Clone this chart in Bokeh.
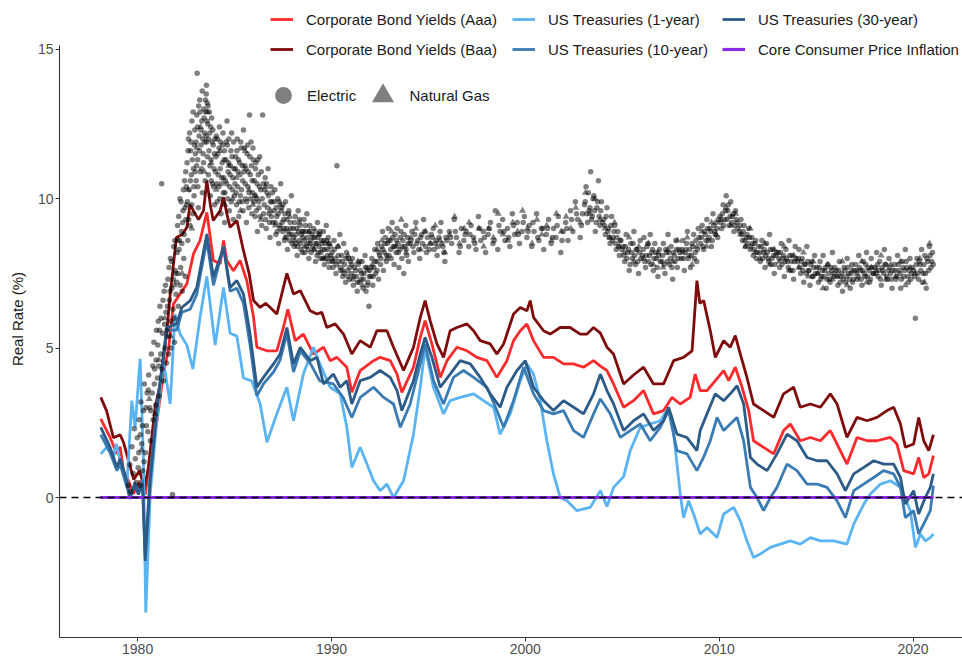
from bokeh.plotting import figure
from bokeh.models import Range1d, FixedTicker, Span, Legend, LegendItem, ColumnDataSource
from bokeh.embed import file_html
from bokeh.resources import INLINE

# ---------------- line series (decimal year, real rate %) ----------------
aaa_year = [1978.1, 1978.58, 1978.93, 1979.1, 1979.27, 1979.53, 1979.78, 1980.13, 1980.39, 1980.56, 1980.9,
            1981.33, 1981.6, 1981.85, 1982.19, 1982.54, 1982.88, 1983.22, 1983.57, 1983.91, 1984.26, 1984.43,
            1984.6, 1984.94, 1985.29, 1985.63, 1985.98, 1986.15, 1986.67, 1987.18, 1987.52, 1987.75, 1988.13,
            1988.55, 1989.07, 1989.59, 1989.93, 1990.28, 1990.79, 1991.05, 1991.48, 1992.17, 1992.51, 1993.03,
            1993.38, 1993.63, 1994.23, 1994.58, 1994.83, 1995.18, 1995.61, 1995.96, 1996.47, 1996.99, 1997.5,
            1998.02, 1998.53, 1999.05, 1999.39, 1999.74, 2000.08, 2000.42, 2000.94, 2001.45, 2001.97, 2002.49,
            2003.0, 2003.52, 2003.87, 2004.21, 2004.55, 2005.07, 2005.58, 2006.1, 2006.61, 2007.13, 2007.56,
            2007.99, 2008.5, 2008.76, 2009.02, 2009.37, 2009.8, 2010.23, 2010.49, 2010.83, 2011.18, 2011.52,
            2011.77, 2012.29, 2012.81, 2013.32, 2013.67, 2014.18, 2014.7, 2015.22, 2015.73, 2016.08, 2016.59,
            2017.11, 2017.63, 2018.14, 2018.83, 2019.17, 2019.52, 2020.03, 2020.29, 2020.55, 2020.81, 2021.05]
aaa_rate = [2.63, 2.01, 1.46, 1.7, 0.9, 0.56, 0.12, 0.56, 0.1, 0.9, 2.12,
            4.13, 5.0, 6.48, 6.81, 7.15, 8.15, 8.6, 9.54, 7.93, 7.82, 8.6,
            7.93, 7.59, 7.93, 7.26, 6.03, 5.03, 4.91, 4.91, 5.69, 6.3, 5.25,
            5.47, 4.8, 5.03, 4.58, 4.69, 4.36, 3.52, 4.25, 4.58, 4.69, 4.58,
            4.13, 3.52, 4.36, 5.36, 5.92, 5.14, 4.02, 4.58, 5.03, 4.91, 4.69,
            4.58, 4.02, 4.58, 5.25, 5.58, 5.81, 5.25, 4.69, 4.69, 4.47, 4.47,
            4.36, 4.58, 4.4, 4.25, 3.8, 3.02, 3.24, 3.58, 2.8, 2.91, 3.35,
            3.13, 3.35, 4.13, 3.58, 3.58, 3.91, 4.25, 3.91, 4.36, 3.69, 2.91,
            1.9, 1.68, 1.46, 2.24, 2.46, 1.9, 2.01, 1.9, 2.24, 1.79, 1.12,
            2.01, 1.9, 1.9, 2.01, 1.79, 0.9, 0.79, 1.34, 0.67, 0.79, 1.4]

baa_year = [1978.1, 1978.4, 1978.75, 1979.1, 1979.27, 1979.5, 1979.8, 1980.1, 1980.35, 1980.55, 1980.9,
            1981.16, 1981.5, 1981.68, 1982.0, 1982.3, 1982.54, 1982.7, 1983.14, 1983.4, 1983.57, 1983.75,
            1983.9, 1984.26, 1984.43, 1984.6, 1984.77, 1985.12, 1985.46, 1985.75, 1985.98, 1986.32, 1986.6,
            1986.84, 1987.18, 1987.52, 1987.7, 1988.04, 1988.39, 1988.73, 1988.9, 1989.25, 1989.5, 1989.76,
            1990.19, 1990.62, 1991.05, 1991.48, 1992.0, 1992.34, 1992.86, 1993.2, 1993.72, 1994.23, 1994.58,
            1994.83, 1995.09, 1995.44, 1995.78, 1996.12, 1996.47, 1996.99, 1997.33, 1997.67, 1998.19, 1998.53,
            1998.88, 1999.39, 1999.74, 2000.08, 2000.25, 2000.42, 2000.94, 2001.28, 2001.8, 2002.31, 2002.83,
            2003.18, 2003.52, 2003.87, 2004.21, 2004.55, 2005.07, 2005.58, 2006.1, 2006.61, 2007.13, 2007.65,
            2008.16, 2008.6, 2008.85, 2009.0, 2009.2, 2009.54, 2009.8, 2010.23, 2010.57, 2010.83, 2011.09,
            2011.43, 2011.77, 2012.29, 2012.81, 2013.32, 2013.84, 2014.18, 2014.7, 2015.22, 2015.73, 2016.08,
            2016.59, 2017.11, 2017.63, 2018.14, 2018.66, 2019.0, 2019.35, 2019.6, 2020.03, 2020.29, 2020.55,
            2020.81, 2021.05]
baa_rate = [3.35, 2.9, 2.0, 2.1, 1.85, 1.3, 0.6, 0.9, 0.3, 1.0, 3.0,
            3.8, 5.5, 6.8, 8.7, 8.8, 9.04, 9.8, 9.3, 9.6, 10.6, 9.8,
            9.27, 9.6, 10.05, 9.5, 9.04, 9.27, 8.26, 7.5, 6.59, 6.36, 6.5,
            6.36, 6.14, 7.03, 7.5, 6.81, 6.92, 6.48, 6.25, 6.14, 6.2, 5.69,
            5.81, 5.47, 4.8, 5.25, 5.03, 5.58, 5.58, 5.03, 4.25, 5.03, 6.03,
            6.59, 5.92, 5.14, 4.69, 5.58, 5.69, 5.81, 5.58, 5.25, 5.14, 4.8,
            5.14, 6.14, 6.36, 6.25, 6.59, 6.03, 5.58, 5.47, 5.69, 5.69, 5.47,
            5.47, 5.69, 5.5, 5.03, 4.8, 3.8, 4.1, 4.36, 3.8, 3.8, 4.58,
            4.69, 4.91, 7.26, 6.5, 6.59, 5.58, 4.69, 5.25, 5.03, 5.42, 4.8,
            4.02, 3.13, 2.91, 2.68, 3.47, 3.69, 3.02, 3.13, 3.02, 3.47, 3.13,
            2.01, 2.68, 2.57, 2.68, 2.91, 3.02, 2.46, 1.68, 1.79, 2.68, 1.9,
            1.57, 2.1]

t1_year = [1978.1, 1978.4, 1978.75, 1978.9, 1979.2, 1979.44, 1979.7, 1979.87, 1980.13, 1980.3, 1980.42,
           1980.65, 1980.99, 1981.33, 1981.68, 1981.93, 1982.19, 1982.54, 1982.85, 1983.22, 1983.57, 1984.0,
           1984.43, 1984.77, 1985.12, 1985.46, 1985.89, 1986.32, 1986.67, 1987.18, 1987.7, 1988.04, 1988.55,
           1989.07, 1989.33, 1989.93, 1990.45, 1990.79, 1991.05, 1991.48, 1991.83, 1992.17, 1992.51, 1992.86,
           1993.2, 1993.72, 1994.23, 1994.58, 1994.83, 1995.26, 1995.78, 1996.12, 1996.64, 1997.33, 1997.84,
           1998.36, 1998.7, 1999.22, 1999.74, 2000.08, 2000.42, 2000.77, 2001.11, 2001.45, 2001.8, 2002.15,
           2002.66, 2003.35, 2003.87, 2004.21, 2004.55, 2005.07, 2005.41, 2005.93, 2006.44, 2006.96, 2007.3,
           2007.56, 2007.99, 2008.16, 2008.42, 2008.68, 2009.02, 2009.37, 2009.89, 2010.23, 2010.75, 2011.09,
           2011.43, 2011.77, 2012.12, 2012.64, 2013.15, 2013.67, 2014.18, 2014.7, 2015.22, 2015.9, 2016.59,
           2016.94, 2017.46, 2017.8, 2018.32, 2018.83, 2019.35, 2019.86, 2020.12, 2020.38, 2020.63, 2020.89,
           2021.05]
t1_rate = [1.46, 1.68, 1.34, 1.8, 0.9, 0.34, 3.24, 2.35, 4.64, 1.23, -3.85,
           0.12, 2.57, 4.58, 3.13, 6.14, 5.47, 5.1, 4.3, 6.03, 7.4, 5.1,
           7.03, 5.5, 5.4, 4.0, 3.9, 3.13, 1.85, 2.8, 3.69, 2.57, 4.13,
           5.03, 4.58, 3.69, 3.47, 2.35, 1.01, 1.68, 1.12, 0.56, 0.23, 0.45,
           0.0, 0.56, 2.12, 3.69, 5.0, 3.69, 2.8, 3.24, 3.35, 3.47, 3.24,
           3.02, 2.12, 2.8, 3.91, 4.47, 4.13, 3.24, 1.9, 0.79, 0.0, -0.11,
           -0.44, -0.33, 0.23, -0.3, 0.34, 0.7, 1.57, 2.35, 2.46, 2.57, 2.91,
           2.68, 0.12, -0.67, -0.11, -0.55, -1.22, -1.0, -1.34, -0.55, -0.33, -0.78,
           -1.45, -2.01, -1.89, -1.67, -1.56, -1.45, -1.56, -1.34, -1.45, -1.45, -1.56,
           -0.89, -0.22, 0.12, 0.45, 0.56, 0.34, -0.44, -1.67, -1.22, -1.45, -1.34,
           -1.22]

t10_year = [1978.1, 1978.58, 1978.93, 1979.1, 1979.44, 1979.6, 1979.85, 1980.04, 1980.25, 1980.39, 1980.65,
            1980.99, 1981.5, 1982.02, 1982.28, 1982.71, 1983.05, 1983.57, 1983.91, 1984.43, 1984.77, 1985.12,
            1985.46, 1985.8, 1986.15, 1986.49, 1987.01, 1987.35, 1987.7, 1988.04, 1988.39, 1988.9, 1989.4,
            1990.1, 1990.6, 1991.05, 1991.48, 1992.17, 1992.69, 1993.2, 1993.55, 1994.06, 1994.58, 1994.83,
            1995.26, 1995.78, 1996.29, 1996.81, 1997.33, 1998.02, 1998.53, 1998.88, 1999.39, 1999.91, 2000.42,
            2000.94, 2001.45, 2001.97, 2002.49, 2003.0, 2003.52, 2003.87, 2004.38, 2004.9, 2005.41, 2005.93,
            2006.44, 2006.96, 2007.39, 2007.82, 2008.34, 2008.85, 2009.19, 2009.54, 2009.89, 2010.23, 2010.57,
            2010.92, 2011.26, 2011.61, 2011.95, 2012.29, 2012.64, 2012.98, 2013.5, 2014.01, 2014.53, 2015.05,
            2015.56, 2016.08, 2016.51, 2016.94, 2017.45, 2017.97, 2018.48, 2019.0, 2019.35, 2019.6, 2020.03,
            2020.29, 2020.63, 2020.89, 2021.05]
t10_rate = [2.1, 1.5, 0.9, 1.1, 0.4, -0.05, 0.5, 0.2, 0.6, -1.9, 0.8,
            3.0, 5.6, 5.6, 6.2, 6.3, 6.8, 8.6, 7.1, 8.4, 6.9, 7.0,
            6.5, 5.1, 3.4, 3.8, 4.2, 4.6, 5.5, 4.2, 4.9, 4.5, 3.9,
            3.8, 3.35, 2.68, 3.35, 3.69, 3.35, 3.13, 2.35, 3.13, 4.47, 5.14,
            3.91, 3.13, 4.02, 4.25, 4.02, 3.69, 2.91, 2.35, 3.24, 4.36, 3.47,
            2.91, 2.8, 2.91, 2.24, 2.01, 2.8, 3.3, 2.8, 2.01, 2.24, 2.46,
            1.9, 2.35, 2.91, 1.57, 1.46, 0.9, 1.34, 1.9, 2.68, 2.24, 2.46,
            2.68, 1.9, 0.34, 0.0, -0.44, 0.0, 0.34, 1.12, 0.9, 0.45, 0.45,
            0.34, -0.11, -0.67, 0.23, 0.45, 0.67, 0.9, 0.79, 0.34, -0.67, -0.44,
            -1.22, -0.78, -0.44, 0.4]

t30_year = [1978.1, 1978.58, 1978.93, 1979.1, 1979.44, 1979.6, 1979.85, 1980.04, 1980.25, 1980.39, 1980.65,
            1980.99, 1981.5, 1982.02, 1982.28, 1982.71, 1983.05, 1983.57, 1983.91, 1984.43, 1984.77, 1985.12,
            1985.46, 1985.8, 1986.15, 1986.49, 1987.01, 1987.35, 1987.7, 1988.04, 1988.39, 1988.9, 1989.25,
            1989.59, 1990.1, 1990.45, 1990.79, 1991.05, 1991.48, 1992.0, 1992.51, 1993.03, 1993.38, 1993.63,
            1994.23, 1994.58, 1994.83, 1995.18, 1995.61, 1996.12, 1996.64, 1997.16, 1997.67, 1998.19, 1998.7,
            1999.05, 1999.57, 2000.0, 2000.42, 2000.94, 2001.45, 2001.97, 2002.49, 2003.0, 2003.52, 2003.87,
            2004.21, 2004.55, 2005.07, 2005.58, 2006.1, 2006.61, 2007.13, 2007.39, 2007.82, 2008.33, 2008.85,
            2009.02, 2009.37, 2009.8, 2010.23, 2010.57, 2010.92, 2011.26, 2011.61, 2011.95, 2012.47, 2012.98,
            2013.5, 2014.01, 2014.53, 2015.05, 2015.56, 2016.08, 2016.51, 2016.94, 2017.46, 2017.97, 2018.49,
            2019.0, 2019.35, 2019.6, 2020.03, 2020.29, 2020.63, 2020.89, 2021.05]
t30_rate = [2.35, 1.68, 1.01, 1.3, 0.56, 0.0, 0.4, 0.1, 0.5, -2.12, 0.56,
            2.91, 5.69, 5.81, 6.36, 6.59, 7.03, 8.82, 7.37, 8.37, 7.03, 7.26,
            6.81, 5.47, 3.69, 4.02, 4.47, 4.8, 5.69, 4.47, 5.03, 4.58, 4.69,
            3.8, 4.13, 3.69, 3.91, 3.13, 3.91, 4.02, 4.25, 4.02, 3.58, 2.91,
            3.91, 4.8, 5.36, 4.69, 3.69, 4.13, 4.58, 4.47, 4.02, 3.47, 3.02,
            3.69, 4.25, 4.58, 3.69, 3.24, 2.91, 3.24, 3.02, 2.8, 3.47, 4.13,
            3.58, 3.13, 2.24, 2.57, 2.8, 2.24, 2.57, 3.02, 2.12, 2.01, 1.57,
            2.24, 2.8, 3.47, 3.24, 3.47, 3.74, 3.13, 1.34, 1.12, 0.9, 1.46,
            2.12, 1.9, 1.34, 1.23, 1.23, 0.79, 0.23, 0.79, 1.01, 1.23, 1.12,
            1.12, 0.67, -0.22, 0.23, -0.55, 0.0, 0.34, 0.79]

cpi_year = [1978.08, 2021.05]
cpi_rate = [0.0, 0.0]

# ---------------- utility authorized returns (scatter) ----------------
elec_year_a = [1979.52, 1979.6, 1979.66, 1979.71, 1979.77, 1979.83, 1979.88, 1979.94, 1979.98,
               1980.03, 1980.08, 1980.12, 1980.17, 1980.21, 1980.26, 1980.3, 1980.35, 1980.4, 1980.45, 1980.49,
               1980.53, 1980.57, 1980.62, 1980.66, 1980.71, 1980.75, 1980.8, 1980.84, 1980.88, 1980.93, 1980.97,
               1981.02, 1981.06, 1981.11, 1981.15, 1981.19, 1981.24, 1981.28, 1981.33, 1981.37, 1981.41, 1981.46, 1981.49,
               1981.52, 1981.56, 1981.6, 1981.64, 1981.69, 1981.73, 1981.77, 1981.8, 1981.82, 1981.86, 1981.9, 1981.94, 1981.98,
               1982.02, 1982.06, 1982.1, 1982.14, 1982.18, 1982.22, 1982.26, 1982.3, 1982.34, 1982.38, 1982.42, 1982.46, 1982.49,
               1982.52, 1982.55, 1982.59, 1982.62, 1982.66, 1982.7, 1982.73, 1982.77, 1982.8, 1982.84, 1982.88, 1982.91, 1982.95, 1982.98,
               1983.02, 1983.05, 1983.07, 1983.1, 1983.13, 1983.17, 1983.2, 1983.24, 1983.27, 1983.31, 1983.34, 1983.38, 1983.41, 1983.45, 1983.48,
               1983.51, 1983.54, 1983.56, 1983.59, 1983.62, 1983.65, 1983.68, 1983.72, 1983.75, 1983.79, 1983.82, 1983.86, 1983.9, 1983.94, 1983.97,
               1984.02, 1984.06, 1984.1, 1984.14, 1984.18, 1984.22, 1984.26, 1984.3, 1984.34, 1984.38, 1984.42, 1984.46, 1984.49,
               1984.53, 1984.57, 1984.61, 1984.65, 1984.69, 1984.73, 1984.77, 1984.81, 1984.85, 1984.89, 1984.93, 1984.97]
elec_rate_a = [0.4, 1.1, 0.2, 1.7, 0.8, 2.3, 1.3, 0.5, 2.0,
               1.0, 2.6, 0.4, 3.2, 1.8, 0.9, 2.9, 3.8, 1.5, 2.4, 3.5,
               2.2, 4.1, 3.0, 1.9, 4.8, 3.5, 2.6, 5.2, 4.3, 3.1, 5.6,
               4.0, 5.9, 3.4, 6.4, 4.8, 10.5, 5.5, 3.9, 6.9, 5.0, 6.2, 4.5,
               5.6, 7.3, 4.8, 6.6, 8.0, 5.9, 7.0, 0.1, 6.3, 8.4, 5.2, 7.6, 6.8,
               7.2, 9.1, 6.4, 8.3, 10.0, 7.7, 8.9, 6.9, 9.6, 8.0, 10.6, 7.4, 9.3,
               9.8, 11.2, 8.6, 12.0, 10.3, 9.1, 11.6, 10.8, 12.6, 9.5, 11.0, 10.1, 12.3, 11.5,
               10.6, 12.8, 14.2, 11.3, 9.7, 12.1, 13.3, 10.9, 11.8, 12.6, 10.2, 11.5, 13.0, 12.2, 10.6,
               12.9, 13.5, 11.9, 13.2, 12.5, 10.8, 11.6, 12.2, 10.1, 11.3, 12.7, 10.5, 11.8, 11.0, 9.8,
               10.9, 12.1, 9.9, 11.5, 10.4, 12.4, 11.0, 9.5, 10.7, 11.8, 10.2, 11.3, 9.2,
               10.6, 11.9, 12.6, 10.0, 11.2, 9.6, 10.8, 11.6, 12.2, 10.3, 9.3, 11.0]

elec_year_b = [1985.02, 1985.06, 1985.1, 1985.14, 1985.18, 1985.22, 1985.26, 1985.3, 1985.34, 1985.38, 1985.42, 1985.46,
               1985.53, 1985.57, 1985.61, 1985.65, 1985.69, 1985.73, 1985.77, 1985.81, 1985.85, 1985.89, 1985.93, 1985.97,
               1986.02, 1986.06, 1986.1, 1986.14, 1986.18, 1986.22, 1986.26, 1986.3, 1986.35, 1986.4, 1986.45, 1986.48,
               1986.53, 1986.58, 1986.63, 1986.68, 1986.73, 1986.78, 1986.83, 1986.88, 1986.93, 1986.97,
               1987.03, 1987.08, 1987.13, 1987.18, 1987.23, 1987.28, 1987.33, 1987.38, 1987.43, 1987.48,
               1987.53, 1987.58, 1987.63, 1987.68, 1987.73, 1987.78, 1987.83, 1987.88, 1987.93, 1987.97,
               1988.03, 1988.08, 1988.13, 1988.18, 1988.23, 1988.28, 1988.33, 1988.38, 1988.43, 1988.48,
               1988.53, 1988.58, 1988.63, 1988.68, 1988.73, 1988.78, 1988.83, 1988.88, 1988.93, 1988.97,
               1989.03, 1989.08, 1989.13, 1989.18, 1989.23, 1989.28, 1989.33, 1989.38, 1989.43, 1989.48,
               1989.53, 1989.58, 1989.63, 1989.68, 1989.73, 1989.78, 1989.83, 1989.88, 1989.93, 1989.97,
               1990.03, 1990.08, 1990.13, 1990.18, 1990.23, 1990.28, 1990.33, 1990.38, 1990.43, 1990.48,
               1990.53, 1990.58, 1990.63, 1990.68, 1990.73, 1990.78, 1990.83, 1990.88, 1990.93, 1990.97,
               1991.03, 1991.08, 1991.13, 1991.18, 1991.23, 1991.28, 1991.33, 1991.38, 1991.43, 1991.48,
               1991.53, 1991.58, 1991.63, 1991.68, 1991.73, 1991.78, 1991.83, 1991.88, 1991.93, 1991.97,
               1992.03, 1992.08, 1992.13, 1992.18, 1992.23, 1992.28, 1992.33, 1992.38, 1992.43, 1992.48,
               1992.53, 1992.58, 1992.63, 1992.68, 1992.73, 1992.78, 1992.83, 1992.88, 1992.93, 1992.97,
               1993.03, 1993.08, 1993.13, 1993.18, 1993.23, 1993.28, 1993.33, 1993.38, 1993.43, 1993.48,
               1993.53, 1993.58, 1993.63, 1993.68, 1993.73, 1993.78, 1993.83, 1993.88, 1993.93, 1993.97,
               1994.05, 1994.15, 1994.25, 1994.35, 1994.45, 1994.55, 1994.65, 1994.75, 1994.85, 1994.95]
elec_rate_b = [10.5, 11.4, 9.8, 12.0, 10.9, 9.4, 11.2, 10.1, 11.7, 9.9, 10.6, 12.3,
               11.1, 10.0, 9.2, 11.5, 10.4, 9.7, 12.8, 10.8, 11.9, 9.5, 10.2, 11.3,
               10.6, 9.4, 11.2, 10.0, 8.9, 10.8, 9.7, 11.4, 10.3, 9.1, 12.8, 10.5,
               9.8, 10.7, 9.0, 10.2, 11.0, 9.5, 8.7, 10.4, 9.9, 9.2,
               9.6, 10.3, 8.8, 9.4, 10.0, 8.5, 9.1, 10.5, 9.7, 8.9,
               9.3, 8.6, 9.9, 9.0, 8.3, 9.5, 8.8, 9.2, 10.1, 8.5,
               9.0, 8.4, 9.4, 8.8, 8.1, 9.6, 8.6, 9.1, 8.3, 8.9,
               8.7, 9.3, 8.2, 8.9, 9.5, 8.5, 8.0, 9.1, 8.6, 8.8,
               8.4, 9.0, 8.7, 7.9, 8.5, 9.2, 8.2, 8.8, 8.0, 8.6,
               8.3, 8.9, 7.8, 8.5, 9.1, 8.1, 8.7, 7.7, 8.4, 8.0,
               8.2, 7.7, 8.6, 8.0, 7.5, 11.1, 8.4, 7.9, 8.8, 7.6,
               8.1, 7.4, 8.5, 7.8, 7.2, 8.2, 7.6, 8.0, 7.3, 7.9,
               7.5, 8.0, 7.1, 7.7, 8.3, 7.4, 6.9, 7.8, 7.2, 7.6,
               7.3, 7.9, 7.0, 7.5, 8.1, 6.9, 7.7, 7.2, 6.4, 7.6,
               7.4, 8.0, 7.1, 7.7, 8.3, 7.5, 7.9, 8.5, 7.3, 8.1,
               7.8, 8.4, 8.9, 7.6, 8.2, 8.7, 7.9, 8.5, 9.0, 8.1,
               8.6, 8.0, 9.2, 8.4, 7.8, 8.8, 8.2, 9.0, 8.5, 7.7,
               8.3, 8.9, 8.0, 8.6, 7.5, 8.4, 9.1, 8.1, 8.7, 7.9,
               8.5, 8.9, 8.2, 9.2, 8.6, 8.0, 8.8, 9.3, 8.4, 8.7]

elec_year_c = [1995.05, 1995.15, 1995.25, 1995.35, 1995.45, 1995.55, 1995.65, 1995.75, 1995.85, 1995.95,
               1996.08, 1996.2, 1996.33, 1996.45, 1996.58, 1996.7, 1996.83, 1996.95,
               1997.08, 1997.2, 1997.33, 1997.45, 1997.58, 1997.7, 1997.83, 1997.95,
               1998.08, 1998.2, 1998.33, 1998.45, 1998.58, 1998.7, 1998.83, 1998.95,
               1999.08, 1999.2, 1999.33, 1999.45, 1999.58, 1999.7, 1999.83, 1999.95,
               2000.08, 2000.2, 2000.33, 2000.45, 2000.58, 2000.7, 2000.83, 2000.95,
               2001.08, 2001.2, 2001.33, 2001.45, 2001.58, 2001.7, 2001.83, 2001.95,
               2002.08, 2002.2, 2002.33, 2002.45, 2002.58, 2002.7, 2002.83, 2002.95,
               2003.05, 2003.13, 2003.21, 2003.29, 2003.37, 2003.45, 2003.53, 2003.61, 2003.69, 2003.77, 2003.85, 2003.93,
               2004.05, 2004.13, 2004.21, 2004.29, 2004.37, 2004.45, 2004.53, 2004.61, 2004.69, 2004.77, 2004.85, 2004.93,
               2005.04, 2005.12, 2005.2, 2005.28, 2005.36, 2005.44, 2005.52, 2005.6, 2005.68, 2005.76, 2005.84, 2005.92,
               2006.04, 2006.12, 2006.2, 2006.28, 2006.36, 2006.44, 2006.52, 2006.6, 2006.68, 2006.76, 2006.84, 2006.92,
               2007.04, 2007.12, 2007.2, 2007.28, 2007.36, 2007.44, 2007.52, 2007.6, 2007.68, 2007.76, 2007.84, 2007.92]
elec_rate_c = [8.3, 8.8, 9.0, 8.5, 8.1, 8.7, 9.2, 8.4, 7.9, 8.6,
               8.9, 8.5, 9.3, 8.7, 8.2, 9.0, 8.6, 8.9,
               8.4, 9.1, 8.7, 8.3, 9.4, 8.6, 8.9, 8.2,
               8.8, 9.2, 8.5, 9.6, 8.3, 8.9, 9.3, 8.6,
               9.0, 8.4, 9.5, 8.8, 9.2, 8.5, 8.9, 9.4,
               8.7, 9.1, 8.4, 8.9, 9.5, 8.6, 9.0, 8.3,
               8.8, 9.3, 8.5, 9.0, 8.7, 9.4, 8.2, 8.9,
               9.2, 8.6, 9.6, 8.9, 9.9, 9.3, 8.7, 9.5,
               9.8, 10.4, 9.2, 9.6, 10.9, 9.4, 10.1, 8.9, 9.7, 10.6, 9.1, 9.9,
               9.3, 8.8, 9.7, 9.0, 8.5, 9.4, 8.7, 9.1, 8.3, 8.9, 8.1, 8.6,
               8.4, 7.9, 8.8, 8.2, 7.6, 8.5, 8.0, 8.9, 7.8, 8.3, 7.5, 8.6,
               8.1, 8.7, 7.7, 8.4, 7.9, 8.8, 8.2, 7.6, 8.5, 8.0, 7.4, 8.3,
               7.9, 8.5, 7.5, 8.2, 8.8, 7.8, 8.4, 7.3, 8.1, 8.6, 7.7, 8.3]

elec_year_d = [2008.04, 2008.12, 2008.2, 2008.28, 2008.36, 2008.44, 2008.52, 2008.6, 2008.68, 2008.76, 2008.84, 2008.92,
               2009.04, 2009.12, 2009.2, 2009.28, 2009.36, 2009.44, 2009.52, 2009.6, 2009.68, 2009.76, 2009.84, 2009.92,
               2010.04, 2010.12, 2010.2, 2010.28, 2010.36, 2010.44, 2010.52, 2010.6, 2010.68, 2010.76, 2010.84, 2010.92,
               2011.04, 2011.12, 2011.2, 2011.28, 2011.36, 2011.44, 2011.52, 2011.6, 2011.68, 2011.76, 2011.84, 2011.92,
               2012.04, 2012.12, 2012.2, 2012.28, 2012.36, 2012.44, 2012.52, 2012.6, 2012.68, 2012.76, 2012.84, 2012.92,
               2013.04, 2013.12, 2013.2, 2013.28, 2013.36, 2013.44, 2013.52, 2013.6, 2013.68, 2013.76, 2013.84, 2013.92,
               2014.04, 2014.12, 2014.2, 2014.28, 2014.36, 2014.44, 2014.52, 2014.6, 2014.68, 2014.76, 2014.84, 2014.92,
               2015.04, 2015.12, 2015.2, 2015.28, 2015.36, 2015.44, 2015.52, 2015.6, 2015.68, 2015.76, 2015.84, 2015.92,
               2016.04, 2016.12, 2016.2, 2016.28, 2016.36, 2016.44, 2016.52, 2016.6, 2016.68, 2016.76, 2016.84, 2016.92,
               2017.04, 2017.12, 2017.2, 2017.28, 2017.36, 2017.44, 2017.52, 2017.6, 2017.68, 2017.76, 2017.84, 2017.92,
               2018.04, 2018.12, 2018.2, 2018.28, 2018.36, 2018.44, 2018.52, 2018.6, 2018.68, 2018.76, 2018.84, 2018.92,
               2019.04, 2019.12, 2019.2, 2019.28, 2019.36, 2019.44, 2019.52, 2019.6, 2019.68, 2019.76, 2019.84, 2019.92,
               2020.04, 2020.12, 2020.2, 2020.28, 2020.36, 2020.44, 2020.52, 2020.6, 2020.68, 2020.76, 2020.84, 2020.92,
               2021.0, 2021.04]
elec_rate_d = [8.0, 8.6, 7.6, 8.3, 8.9, 8.1, 7.7, 8.5, 8.8, 8.2, 7.9, 9.0,
               8.5, 9.1, 8.3, 8.8, 9.3, 8.6, 9.0, 8.4, 9.5, 8.9, 9.2, 8.7,
               9.4, 9.0, 9.8, 9.3, 10.1, 9.6, 9.1, 9.9, 9.4, 8.9, 9.6, 9.2,
               8.9, 9.3, 8.6, 9.1, 8.4, 8.8, 9.0, 8.3, 8.7, 8.1, 8.5, 8.0,
               8.4, 7.9, 8.6, 8.2, 7.7, 8.5, 8.0, 8.8, 7.8, 8.3, 7.5, 8.1,
               8.2, 7.7, 8.5, 8.0, 7.4, 8.3, 7.9, 8.6, 7.6, 8.1, 7.3, 8.4,
               7.9, 8.3, 7.5, 8.0, 7.2, 7.8, 8.4, 7.6, 7.1, 7.9, 7.4, 8.1,
               7.7, 7.2, 7.9, 7.4, 8.1, 7.6, 7.0, 7.8, 7.3, 7.7, 8.2, 7.5,
               7.6, 7.1, 7.9, 7.4, 6.9, 7.7, 7.2, 8.0, 7.5, 7.0, 7.8, 7.3,
               7.8, 7.3, 8.1, 7.6, 7.1, 7.9, 7.4, 8.2, 7.7, 7.2, 8.0, 7.5,
               7.7, 8.2, 7.4, 7.9, 7.1, 7.6, 8.3, 7.8, 7.3, 8.0, 7.5, 7.0,
               7.8, 7.3, 8.1, 7.6, 7.0, 7.9, 7.4, 8.3, 7.7, 7.2, 8.0, 7.5,
               7.6, 6.0, 8.0, 7.3, 7.8, 8.3, 7.5, 8.1, 7.0, 7.9, 8.4, 7.7,
               8.2, 7.8]

elec_year_e = [1980.06, 1980.14, 1980.24, 1980.33, 1980.43, 1980.55, 1980.68, 1980.78, 1980.86, 1980.95,
               1981.04, 1981.09, 1981.13, 1981.21, 1981.26, 1981.31, 1981.39, 1981.44, 1981.54, 1981.58,
               1981.62, 1981.67, 1981.71, 1981.75, 1981.84, 1981.88, 1981.92, 1981.96,
               1982.04, 1982.08, 1982.12, 1982.16, 1982.2, 1982.24, 1982.28, 1982.32, 1982.36, 1982.4,
               1982.44, 1982.48, 1982.51, 1982.57, 1982.6, 1982.64, 1982.68, 1982.72, 1982.75, 1982.79,
               1982.82, 1982.86, 1982.9, 1982.93, 1982.97,
               1983.01, 1983.04, 1983.09, 1983.11, 1983.15, 1983.19, 1983.22, 1983.26, 1983.29, 1983.33,
               1983.36, 1983.4, 1983.43, 1983.47, 1983.5, 1983.53, 1983.55, 1983.58, 1983.6, 1983.63,
               1983.66, 1983.7, 1983.73, 1983.77, 1983.8, 1983.84, 1983.88, 1983.92, 1983.96, 1983.99,
               1984.04, 1984.08, 1984.12, 1984.16, 1984.2, 1984.24, 1984.28, 1984.32, 1984.36, 1984.4,
               1984.44, 1984.48, 1984.51, 1984.55, 1984.59, 1984.63, 1984.67, 1984.71, 1984.75, 1984.79,
               1984.83, 1984.87, 1984.91, 1984.95, 1984.99,
               1985.04, 1985.08, 1985.12, 1985.16, 1985.2, 1985.24, 1985.28, 1985.32, 1985.36, 1985.4,
               1985.44, 1985.48, 1985.51, 1985.55, 1985.59, 1985.63, 1985.67, 1985.71, 1985.75, 1985.79,
               1985.83, 1985.87, 1985.91, 1985.95, 1985.99,
               1986.04, 1986.08, 1986.12, 1986.16, 1986.2, 1986.24, 1986.28, 1986.33, 1986.38, 1986.43,
               1986.5, 1986.55, 1986.6, 1986.65, 1986.7, 1986.75, 1986.8, 1986.85, 1986.9, 1986.95,
               1987.05, 1987.1, 1987.15, 1987.2, 1987.25, 1987.3, 1987.35, 1987.4, 1987.45, 1987.5,
               1987.55, 1987.6, 1987.65, 1987.7, 1987.75, 1987.8, 1987.85, 1987.9, 1987.95,
               1988.05, 1988.1, 1988.15, 1988.2, 1988.25, 1988.3, 1988.35, 1988.4, 1988.45, 1988.5,
               1988.55, 1988.6, 1988.65, 1988.7, 1988.75, 1988.8, 1988.85, 1988.9, 1988.95,
               1989.05, 1989.1, 1989.15, 1989.2, 1989.25, 1989.3, 1989.35, 1989.4, 1989.45, 1989.5,
               1989.55, 1989.6, 1989.65, 1989.7, 1989.75, 1989.8, 1989.85, 1989.9, 1989.95]
elec_rate_e = [1.5, 2.1, 2.4, 1.2, 3.0, 3.6, 2.9, 4.4, 3.8, 4.6,
               5.1, 4.4, 5.6, 6.0, 4.3, 6.6, 5.8, 7.1, 6.4, 5.4,
               7.7, 6.9, 5.0, 7.9, 7.3, 6.0, 8.6, 7.5,
               8.2, 7.5, 9.4, 8.6, 7.1, 9.9, 8.5, 9.2, 10.3, 8.8,
               9.7, 10.9, 10.4, 9.9, 11.6, 9.3, 12.2, 10.6, 11.9, 9.8,
               11.3, 12.9, 10.4, 11.8, 10.9,
               11.9, 11.1, 12.4, 10.4, 13.1, 11.6, 12.9, 12.3, 11.0, 13.6,
               12.0, 11.2, 12.7, 11.9, 13.3, 12.1, 13.8, 12.6, 11.4, 13.1,
               12.0, 12.9, 11.1, 12.4, 10.6, 11.9, 12.3, 10.4, 11.5, 12.0,
               11.4, 10.5, 12.0, 10.8, 11.7, 10.0, 11.9, 10.5, 11.2, 12.2,
               10.7, 11.6, 10.2, 11.3, 10.5, 11.8, 10.9, 12.0, 10.4, 11.1,
               9.9, 11.4, 10.7, 11.9, 10.1,
               11.0, 10.2, 11.6, 10.4, 11.3, 9.9, 10.8, 11.9, 10.3, 11.1,
               9.6, 10.9, 11.7, 10.5, 11.0, 9.9, 11.8, 10.9, 10.2, 11.4,
               10.0, 11.1, 10.6, 11.7, 9.9,
               10.1, 11.0, 9.6, 10.5, 11.3, 9.9, 10.4, 9.4, 10.9, 10.0,
               9.5, 10.3, 9.3, 10.5, 9.7, 10.1, 9.2, 9.9, 9.4, 10.2,
               9.9, 9.2, 9.7, 8.9, 9.5, 9.9, 9.0, 9.6, 9.2, 9.8,
               9.0, 9.5, 8.7, 9.3, 8.9, 9.6, 8.6, 9.0, 8.8,
               8.7, 9.2, 8.5, 9.0, 8.4, 8.9, 9.3, 8.5, 8.8, 8.2,
               8.9, 8.6, 9.1, 8.4, 8.7, 8.3, 8.9, 8.5, 8.2,
               8.7, 8.3, 8.9, 8.5, 8.1, 8.7, 8.4, 8.9, 8.2, 8.5,
               8.0, 8.6, 8.3, 8.0, 8.6, 8.3, 7.9, 8.5, 8.1]

elec_year_f = [1990.05, 1990.15, 1990.25, 1990.35, 1990.45, 1990.55, 1990.65, 1990.75, 1990.85, 1990.95,
               1991.05, 1991.15, 1991.25, 1991.35, 1991.45, 1991.55, 1991.65, 1991.75, 1991.85, 1991.95,
               1992.05, 1992.15, 1992.25, 1992.35, 1992.45, 1992.55, 1992.65, 1992.75, 1992.85, 1992.95,
               1993.05, 1993.15, 1993.25, 1993.35, 1993.45, 1993.55, 1993.65, 1993.75, 1993.85, 1993.95,
               1994.1, 1994.2, 1994.3, 1994.4, 1994.5, 1994.6, 1994.7, 1994.8, 1994.9,
               1995.1, 1995.2, 1995.3, 1995.4, 1995.5, 1995.6, 1995.7, 1995.8, 1995.9,
               1996.14, 1996.39, 1996.64, 1996.89, 1997.14, 1997.39, 1997.64, 1997.89,
               1998.14, 1998.39, 1998.64, 1998.89, 1999.14, 1999.39, 1999.64, 1999.89,
               2000.14, 2000.39, 2000.64, 2000.89, 2001.14, 2001.39, 2001.64, 2001.89,
               2002.14, 2002.39, 2002.64, 2002.89,
               2003.09, 2003.17, 2003.25, 2003.33, 2003.41, 2003.49, 2003.57, 2003.65, 2003.73, 2003.81, 2003.89, 2003.97,
               2004.09, 2004.17, 2004.25, 2004.33, 2004.41, 2004.49, 2004.57, 2004.65, 2004.73, 2004.81, 2004.89, 2004.97,
               2005.08, 2005.16, 2005.24, 2005.32, 2005.4, 2005.48, 2005.56, 2005.64, 2005.72, 2005.8, 2005.88, 2005.96,
               2006.08, 2006.16, 2006.24, 2006.32, 2006.4, 2006.48, 2006.56, 2006.64, 2006.72, 2006.8, 2006.88, 2006.96,
               2007.08, 2007.16, 2007.24, 2007.32, 2007.4, 2007.48, 2007.56, 2007.64, 2007.72, 2007.8, 2007.88, 2007.96,
               2008.08, 2008.16, 2008.24, 2008.32, 2008.4, 2008.48, 2008.56, 2008.64, 2008.72, 2008.8, 2008.88, 2008.96,
               2009.08, 2009.16, 2009.24, 2009.32, 2009.4, 2009.48, 2009.56, 2009.64, 2009.72, 2009.8, 2009.88, 2009.96,
               2010.08, 2010.16, 2010.24, 2010.32, 2010.4, 2010.48, 2010.56, 2010.64, 2010.72, 2010.8, 2010.88, 2010.96,
               2011.08, 2011.16, 2011.24, 2011.32, 2011.4, 2011.48, 2011.56, 2011.64, 2011.72, 2011.8, 2011.88, 2011.96,
               2012.08, 2012.16, 2012.24, 2012.32, 2012.4, 2012.48, 2012.56, 2012.64, 2012.72, 2012.8, 2012.88, 2012.96,
               2013.08, 2013.16, 2013.24, 2013.32, 2013.4, 2013.48, 2013.56, 2013.64, 2013.72, 2013.8, 2013.88, 2013.96,
               2014.08, 2014.16, 2014.24, 2014.32, 2014.4, 2014.48, 2014.56, 2014.64, 2014.72, 2014.8, 2014.88, 2014.96,
               2015.08, 2015.16, 2015.24, 2015.32, 2015.4, 2015.48, 2015.56, 2015.64, 2015.72, 2015.8, 2015.88, 2015.96,
               2016.08, 2016.16, 2016.24, 2016.32, 2016.4, 2016.48, 2016.56, 2016.64, 2016.72, 2016.8, 2016.88, 2016.96,
               2017.08, 2017.16, 2017.24, 2017.32, 2017.4, 2017.48, 2017.56, 2017.64, 2017.72, 2017.8, 2017.88, 2017.96,
               2018.08, 2018.16, 2018.24, 2018.32, 2018.4, 2018.48, 2018.56, 2018.64, 2018.72, 2018.8, 2018.88, 2018.96,
               2019.08, 2019.16, 2019.24, 2019.32, 2019.4, 2019.48, 2019.56, 2019.64, 2019.72, 2019.8, 2019.88, 2019.96,
               2020.08, 2020.16, 2020.24, 2020.32, 2020.4, 2020.48, 2020.56, 2020.64, 2020.72, 2020.8, 2020.88, 2020.96]
elec_rate_f = [7.9, 8.3, 7.8, 8.1, 7.7, 7.9, 7.5, 8.0, 7.4, 7.7,
               7.8, 7.4, 7.6, 7.2, 7.9, 7.5, 7.3, 7.7, 7.1, 7.4,
               7.7, 7.4, 7.9, 7.6, 8.2, 8.0, 8.3, 8.5, 8.1, 8.6,
               8.3, 8.7, 8.4, 8.6, 8.2, 8.7, 8.4, 8.8, 8.3, 8.5,
               8.6, 8.4, 8.8, 8.5, 8.3, 8.7, 8.5, 8.9, 8.2,
               8.5, 8.7, 8.3, 8.6, 8.4, 8.9, 8.5, 8.2, 8.7,
               8.7, 8.9, 8.4, 8.8, 8.8, 8.5, 9.0, 8.7,
               9.0, 8.6, 9.1, 8.9, 8.7, 9.1, 8.8, 9.2,
               8.9, 9.2, 8.7, 9.0, 9.0, 8.7, 9.1, 8.6,
               9.0, 9.3, 9.5, 9.1,
               9.9, 9.5, 10.2, 9.7, 9.3, 10.0, 9.6, 9.2, 9.9, 9.4, 9.6, 9.2,
               9.1, 9.4, 8.9, 8.7, 9.1, 8.6, 8.9, 8.5, 8.7, 8.4, 8.6, 8.3,
               8.1, 8.4, 8.0, 8.3, 7.8, 8.2, 8.5, 8.1, 8.3, 7.9, 8.2, 8.0,
               8.3, 7.9, 8.1, 8.5, 8.1, 7.8, 8.3, 8.0, 8.2, 7.7, 8.1, 7.9,
               8.1, 7.8, 8.3, 7.9, 8.2, 8.0, 7.7, 8.2, 7.9, 8.3, 8.0, 8.2,
               8.3, 8.0, 8.2, 8.5, 8.0, 8.3, 8.1, 8.4, 8.0, 8.6, 8.3, 8.7,
               8.7, 8.4, 8.9, 8.6, 9.0, 8.7, 8.9, 8.6, 9.1, 8.8, 9.0, 9.3,
               9.2, 9.5, 9.1, 9.6, 9.3, 9.8, 9.4, 9.2, 9.5, 9.1, 9.3, 9.0,
               9.1, 8.8, 8.9, 8.6, 8.7, 8.5, 8.7, 8.4, 8.5, 8.3, 8.6, 8.2,
               8.2, 8.4, 8.0, 8.3, 8.1, 8.2, 7.9, 8.3, 8.0, 8.1, 7.8, 8.2,
               8.0, 8.2, 7.8, 8.1, 7.9, 8.0, 7.7, 8.1, 7.9, 7.6, 7.9, 8.0,
               8.0, 7.7, 7.9, 7.6, 7.8, 7.5, 7.9, 7.6, 7.8, 7.4, 7.7, 7.5,
               7.5, 7.7, 7.3, 7.6, 7.4, 7.7, 7.3, 7.5, 7.2, 7.6, 7.4, 7.7,
               7.4, 7.6, 7.2, 7.5, 7.3, 7.6, 7.4, 7.7, 7.3, 7.5, 7.2, 7.6,
               7.6, 7.4, 7.7, 7.3, 7.6, 7.5, 7.8, 7.4, 7.6, 7.3, 7.7, 7.5,
               7.5, 7.8, 7.6, 7.3, 7.7, 7.5, 7.8, 7.4, 7.6, 7.7, 7.3, 7.6,
               7.6, 7.4, 7.8, 7.5, 7.3, 7.7, 7.6, 7.9, 7.4, 7.6, 7.3, 7.7,
               7.4, 7.8, 7.5, 7.9, 7.6, 7.2, 7.8, 7.5, 8.0, 7.6, 8.1, 7.9]

gas_year = [1980.2, 1980.6, 1980.9, 1981.1, 1981.4, 1981.7, 1981.9, 1982.1, 1982.3, 1982.6, 1982.8,
            1983.05, 1983.25, 1983.45, 1983.6, 1983.8, 1984.05, 1984.25, 1984.5, 1984.7, 1984.9,
            1985.1, 1985.3, 1985.55, 1985.75, 1985.95, 1986.1, 1986.35, 1986.6, 1986.85,
            1987.1, 1987.35, 1987.6, 1987.85, 1988.1, 1988.35, 1988.6, 1988.85, 1989.1, 1989.35, 1989.6, 1989.85,
            1990.1, 1990.35, 1990.6, 1990.85, 1991.1, 1991.35, 1991.6, 1991.85, 1992.1, 1992.35, 1992.6, 1992.85,
            1993.1, 1993.35, 1993.6, 1993.85, 1994.1, 1994.35, 1994.6, 1994.85, 1995.1, 1995.35, 1995.6, 1995.85,
            1996.1, 1996.35, 1996.6, 1996.85, 1997.1, 1997.35, 1997.6, 1997.85, 1998.1, 1998.35, 1998.6, 1998.85,
            1999.1, 1999.35, 1999.6, 1999.85, 2000.1, 2000.35, 2000.6, 2000.85, 2001.1, 2001.35, 2001.6, 2001.85,
            2002.1, 2002.35, 2002.6, 2002.85, 2003.1, 2003.35, 2003.6, 2003.85, 2004.1, 2004.35, 2004.6, 2004.85,
            2005.1, 2005.35, 2005.6, 2005.85, 2006.1, 2006.35, 2006.6, 2006.85, 2007.1, 2007.35, 2007.6, 2007.85,
            2008.1, 2008.35, 2008.6, 2008.85, 2009.1, 2009.35, 2009.6, 2009.85, 2010.1, 2010.35, 2010.6, 2010.85,
            2011.1, 2011.35, 2011.6, 2011.85, 2012.1, 2012.35, 2012.6, 2012.85, 2013.1, 2013.35, 2013.6, 2013.85,
            2014.1, 2014.35, 2014.6, 2014.85, 2015.1, 2015.35, 2015.6, 2015.85, 2016.1, 2016.35, 2016.6, 2016.85,
            2017.1, 2017.35, 2017.6, 2017.85, 2018.1, 2018.35, 2018.6, 2018.85, 2019.1, 2019.35, 2019.6, 2019.85,
            2020.1, 2020.35, 2020.6, 2020.85]
gas_rate = [1.6, 3.3, 2.8, 4.6, 6.0, 5.4, 7.1, 8.6, 7.5, 10.3, 9.0,
            11.7, 12.4, 10.9, 12.9, 11.2, 10.3, 11.6, 9.8, 11.1, 10.0,
            10.7, 9.6, 11.6, 10.3, 9.8, 10.1, 9.3, 10.4, 9.6,
            9.1, 9.8, 8.7, 9.4, 8.6, 9.2, 8.4, 8.9, 8.3, 8.8, 8.0, 8.5,
            7.9, 8.4, 7.6, 8.1, 7.3, 7.9, 7.1, 7.6, 7.8, 8.3, 8.6, 8.0,
            8.9, 8.4, 9.3, 8.2, 8.7, 9.0, 8.3, 8.9, 8.5, 9.1, 8.6, 8.2,
            8.8, 9.4, 8.5, 9.0, 9.2, 8.6, 9.0, 8.4, 9.0, 8.7, 9.5, 8.8,
            8.6, 9.2, 8.9, 9.6, 9.0, 8.5, 9.3, 8.8, 9.1, 8.6, 9.5, 8.9,
            9.4, 9.0, 9.7, 9.2, 10.2, 9.5, 10.0, 9.3, 9.0, 8.7, 9.2, 8.4,
            8.2, 8.7, 7.9, 8.4, 8.0, 8.5, 7.8, 8.2, 7.7, 8.3, 7.9, 8.6,
            8.2, 8.7, 7.8, 8.4, 8.9, 8.4, 9.2, 8.8, 9.3, 9.7, 9.1, 9.5,
            8.8, 8.4, 9.0, 8.2, 8.0, 8.5, 7.8, 8.3, 7.9, 8.4, 7.6, 8.1,
            7.7, 8.2, 7.4, 7.9, 7.5, 7.0, 7.8, 7.3, 7.4, 7.9, 7.1, 7.6,
            7.5, 7.9, 7.2, 7.7, 7.6, 8.1, 7.3, 7.8, 7.4, 7.9, 7.1, 7.7,
            7.5, 8.0, 7.2, 8.5]

# axis ticks
x_ticks = [1980, 1990, 2000, 2010, 2020]
y_ticks = [0, 5, 10, 15]

FONT = "Liberation Sans"

p = figure(width=962, height=658, output_backend="svg", toolbar_location=None,
           x_range=Range1d(1975.97, 2022.55), y_range=Range1d(-4.684, 16.632),
           min_border_left=59, min_border_right=0, min_border_top=0, min_border_bottom=21)
p.background_fill_color = "white"
p.border_fill_color = "white"
p.outline_line_color = None
p.xgrid.visible = False
p.ygrid.visible = False

for ax in (p.xaxis[0], p.yaxis[0]):
    ax.axis_line_color = "#333333"
    ax.axis_line_width = 1.1
    ax.major_tick_line_color = "#333333"
    ax.major_tick_in = 0
    ax.major_tick_out = 4
    ax.minor_tick_line_color = None
    ax.major_label_text_font = FONT
    ax.major_label_text_font_size = "14px"
    ax.major_label_text_color = "#4d4d4d"
    ax.major_label_standoff = 2

p.xaxis.ticker = FixedTicker(ticks=x_ticks)
p.yaxis.ticker = FixedTicker(ticks=y_ticks)
p.yaxis.bounds = (-4.684, 15.12)
p.yaxis.axis_label = "Real Rate (%)"
p.yaxis.axis_label_text_font = FONT
p.yaxis.axis_label_text_font_size = "15px"
p.yaxis.axis_label_text_font_style = "normal"
p.yaxis.axis_label_text_color = "#1a1a1a"
p.yaxis.axis_label_standoff = 9

LW = 2.8
r_aaa = p.line(aaa_year, aaa_rate, line_color="#FB2A2C", line_width=LW)
r_baa = p.line(baa_year, baa_rate, line_color="#7E0C0C", line_width=LW)
r_t1 = p.line(t1_year, t1_rate, line_color="#5AB3F2", line_width=LW)
r_t10 = p.line(t10_year, t10_rate, line_color="#3A7BB3", line_width=LW)
r_t30 = p.line(t30_year, t30_rate, line_color="#2D5B87", line_width=LW)
r_cpi = p.line(cpi_year, cpi_rate, line_color="#8A2BE2", line_width=3.2)

p.add_layout(Span(location=0, dimension="width", line_color="black",
                  line_width=1.5, line_dash="7 5"))

elec_year = elec_year_a + elec_year_b + elec_year_c + elec_year_d + elec_year_e + elec_year_f
elec_rate = elec_rate_a + elec_rate_b + elec_rate_c + elec_rate_d + elec_rate_e + elec_rate_f
src_e = ColumnDataSource(dict(x=elec_year, y=elec_rate))
src_g = ColumnDataSource(dict(x=gas_year, y=gas_rate))
r_elec = p.scatter("x", "y", source=src_e, marker="circle", size=5.5,
                   fill_color="black", fill_alpha=0.5, line_color=None)
r_gas = p.scatter("x", "y", source=src_g, marker="triangle", size=7,
                  fill_color="black", fill_alpha=0.5, line_color=None)

FRAME_LEFT = 59.0
FRAME_BOTTOM = 637.0


def line_legend(items, left_px, top_px):
    leg = Legend(items=items, orientation="vertical",
                 location=(left_px - FRAME_LEFT, FRAME_BOTTOM - (top_px + 50)),
                 glyph_width=23, glyph_height=20, spacing=10, label_standoff=13,
                 padding=0, margin=0, border_line_color=None, background_fill_alpha=0,
                 label_text_font=FONT, label_text_font_size="15px", label_text_color="#1a1a1a",
                 label_height=20)
    p.add_layout(leg, "center")


line_legend([LegendItem(label="Corporate Bond Yields (Aaa)", renderers=[r_aaa]),
             LegendItem(label="Corporate Bond Yields (Baa)", renderers=[r_baa])], 270, 9)
line_legend([LegendItem(label="US Treasuries (1-year)", renderers=[r_t1]),
             LegendItem(label="US Treasuries (10-year)", renderers=[r_t10])], 512, 9)
line_legend([LegendItem(label="US Treasuries (30-year)", renderers=[r_t30]),
             LegendItem(label="Core Consumer Price Inflation", renderers=[r_cpi])], 722, 9)

leg_e = Legend(items=[LegendItem(label="Electric", renderers=[r_elec])],
               location=(262 - FRAME_LEFT, FRAME_BOTTOM - 116),
               glyph_width=42, glyph_height=42, label_standoff=3, padding=0, margin=0,
               border_line_color=None, background_fill_alpha=0,
               label_text_font=FONT, label_text_font_size="15px", label_text_color="#1a1a1a")
p.add_layout(leg_e, "center")
leg_g = Legend(items=[LegendItem(label="Natural Gas", renderers=[r_gas])],
               location=(354.5 - FRAME_LEFT, FRAME_BOTTOM - 122.5),
               glyph_width=55, glyph_height=55, label_standoff=-4, padding=0, margin=0,
               border_line_color=None, background_fill_alpha=0,
               label_text_font=FONT, label_text_font_size="15px", label_text_color="#1a1a1a")
p.add_layout(leg_g, "center")

open("out.html", "w").write(file_html(p, INLINE))
